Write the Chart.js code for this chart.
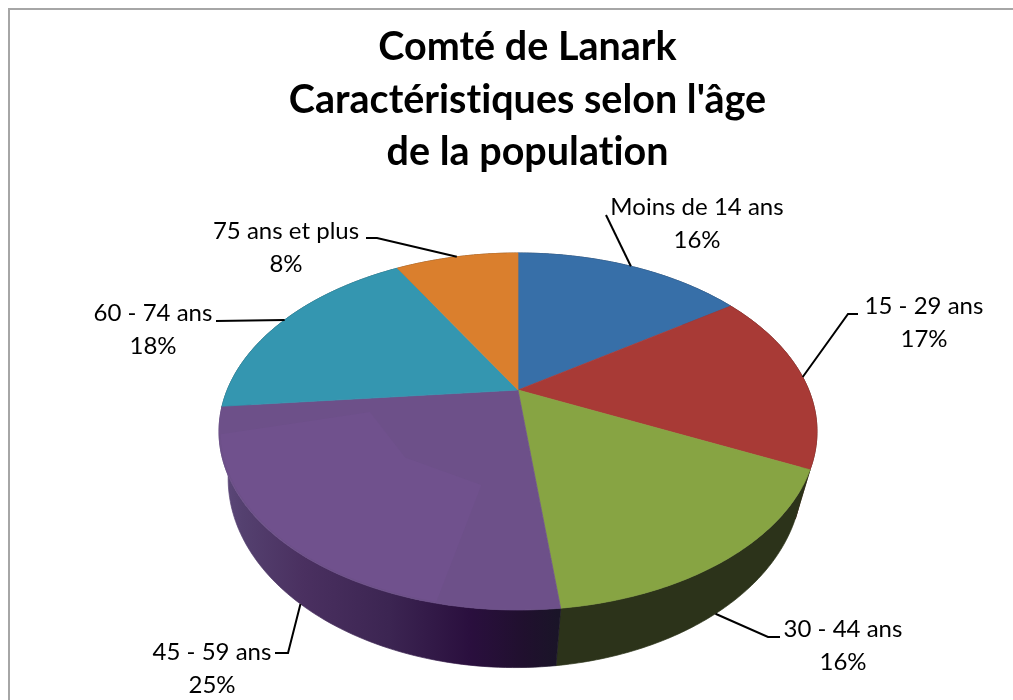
<!DOCTYPE html>
<html>
<head>
<meta charset="utf-8">
<title>Comté de Lanark</title>
<script src="https://cdn.jsdelivr.net/npm/chart.js@4"></script>
<style>
  html, body { margin: 0; padding: 0; background: #fff; overflow: hidden; }
  #wrap { position: absolute; left: 0; top: 0; width: 1055px; height: 760px; }
</style>
</head>
<body>
<div id="wrap"><canvas id="myChart"></canvas></div>
<script>
const categories = ["Moins de 14 ans", "15 - 29 ans", "30 - 44 ans", "45 - 59 ans", "60 - 74 ans", "75 ans et plus"];
const shares = [15.5, 16.5, 16.2, 25.3, 18.2, 8.3];
const titleLines = ["Comté de Lanark", "Caractéristiques selon l'âge", "de la population"];

const topColors = ["#376fa8", "#a83a36", "#87a443", "#6d5089", "#3496b0", "#da7f2d"];
const sideColors = ["#1c2c42", "#42170f", "#2c331a", "#1a1428", "#14404c", "#5c3312"];
const purpleSideStops = [[0, "#5e4a7c"], [0.07, "#54406f"], [0.25, "#4a3060"], [0.5, "#3c2552"], [0.74, "#2a0f3e"], [0.9, "#20102e"], [1, "#1a1428"]];

// perspective of the pie: top face, and bottom face for the wall
const topFace = { x: 518, y: 390, a: 290.8, b: 168.85, k: 0.2325 };
const bottomFace = { x: 515, y: 434.6, a: 279, b: 178.8, k: 0.2325 };
const sheen = { slice: 3, from: 0.535, to: 0.71, inner: 0.51, color: "#70518d" };

// label centre, second line below it, and the leader's elbow
const labelSpots = [
  { x: 697, y: 207, end: [606, 215], face: topFace },
  { x: 924, y: 306, end: [858, 314], elbow: [848, 314], face: topFace },
  { x: 843, y: 629, end: [780, 637], elbow: [768, 637], face: bottomFace },
  { x: 212, y: 652, end: [275, 653], elbow: [288, 653], face: bottomFace },
  { x: 153, y: 313, end: [216, 321], face: topFace },
  { x: 286, y: 231, end: [366, 238], elbow: [377, 238], face: topFace },
];

function project(face, angle, radius) {
  const u = Math.cos(angle) * radius;
  const v = -Math.sin(angle) * radius;
  const d = 1 + face.k * v;
  return [face.x + face.a * u / d, face.y - face.b * v / d];
}

function traceArc(ctx, face, from, to, radius, first, steps = 80) {
  for (let i = 0; i <= steps; i++) {
    const p = project(face, from + (to - from) * i / steps, radius);
    if (i === 0 && first) ctx.moveTo(p[0], p[1]);
    else ctx.lineTo(p[0], p[1]);
  }
}

function paint(ctx, color) {
  ctx.fillStyle = color;
  ctx.strokeStyle = color;
  ctx.lineWidth = 0.7;
  ctx.fill();
  ctx.stroke();
}

const pie3d = {
  id: "pie3d",
  beforeDraw(chart) {
    const ctx = chart.ctx;
    ctx.letterSpacing = "0.01px"; // keeps Lato from joining "ti"
    ctx.save();
    ctx.strokeStyle = "#a6a6a6";
    ctx.lineWidth = 2;
    ctx.strokeRect(9, 9, chart.width - 18, chart.height - 18);
    ctx.restore();
  },
  // the library's arcs give the angles, they are redrawn in perspective
  beforeDatasetsDraw(chart) {
    const ctx = chart.ctx;
    const arcs = chart.getDatasetMeta(0).data;
    ctx.save();

    arcs.forEach((arc, i) => {
      ctx.beginPath();
      traceArc(ctx, topFace, arc.startAngle, arc.endAngle, 1, true);
      traceArc(ctx, bottomFace, arc.endAngle, arc.startAngle, 1, false);
      ctx.closePath();
      let fill = sideColors[i];
      if (i === sheen.slice) {
        fill = ctx.createLinearGradient(219, 0, 558, 0);
        purpleSideStops.forEach(s => fill.addColorStop(s[0], s[1]));
      }
      paint(ctx, fill);
    });

    arcs.forEach((arc, i) => {
      ctx.beginPath();
      const c = project(topFace, 0, 0);
      ctx.moveTo(c[0], c[1]);
      traceArc(ctx, topFace, arc.startAngle, arc.endAngle, 1, false);
      ctx.closePath();
      paint(ctx, topColors[i]);
    });

    const full = Math.PI * 2;
    const a0 = -Math.PI / 2 + sheen.from * full;
    const a1 = -Math.PI / 2 + sheen.to * full;
    ctx.beginPath();
    traceArc(ctx, topFace, a0, a1, sheen.inner, true, 2);
    traceArc(ctx, topFace, a1, a0, 0.995, false);
    ctx.closePath();
    ctx.fillStyle = sheen.color;
    ctx.fill();

    ctx.restore();
    return false;
  },
  afterDraw(chart) {
    const ctx = chart.ctx;
    const arcs = chart.getDatasetMeta(0).data;
    ctx.save();
    arcs.forEach((arc, i) => {
      const spot = labelSpots[i];
      const start = project(spot.face, (arc.startAngle + arc.endAngle) / 2, 1);
      ctx.beginPath();
      ctx.moveTo(start[0], start[1]);
      if (spot.elbow) ctx.lineTo(spot.elbow[0], spot.elbow[1]);
      ctx.lineTo(spot.end[0], spot.end[1]);
      ctx.strokeStyle = "#000";
      ctx.lineWidth = 2;
      ctx.stroke();

      ctx.fillStyle = "#000";
      ctx.font = "24px Lato";
      ctx.textAlign = "center";
      ctx.textBaseline = "middle";
      ctx.fillText(categories[i], spot.x, spot.y);
      ctx.fillText(Math.round(shares[i]) + "%", spot.x, spot.y + 33);
    });
    ctx.restore();
  },
};

const data = {
  labels: categories,
  datasets: [{ data: shares, backgroundColor: topColors, borderWidth: 0 }],
};

const config = {
  type: "pie",
  data: data,
  plugins: [pie3d],
  options: {
    responsive: true,
    maintainAspectRatio: false,
    animation: false,
    plugins: {
      legend: { display: false },
      tooltip: { enabled: false },
      title: {
        display: true,
        text: titleLines,
        color: "#000",
        font: { family: "Lato", size: 39.5, weight: "bold", lineHeight: 1.33 },
        padding: { top: 21, bottom: 10 },
      },
    },
  },
};
const myChart = new Chart(document.getElementById("myChart").getContext("2d"), config);
</script>
</body>
</html>
